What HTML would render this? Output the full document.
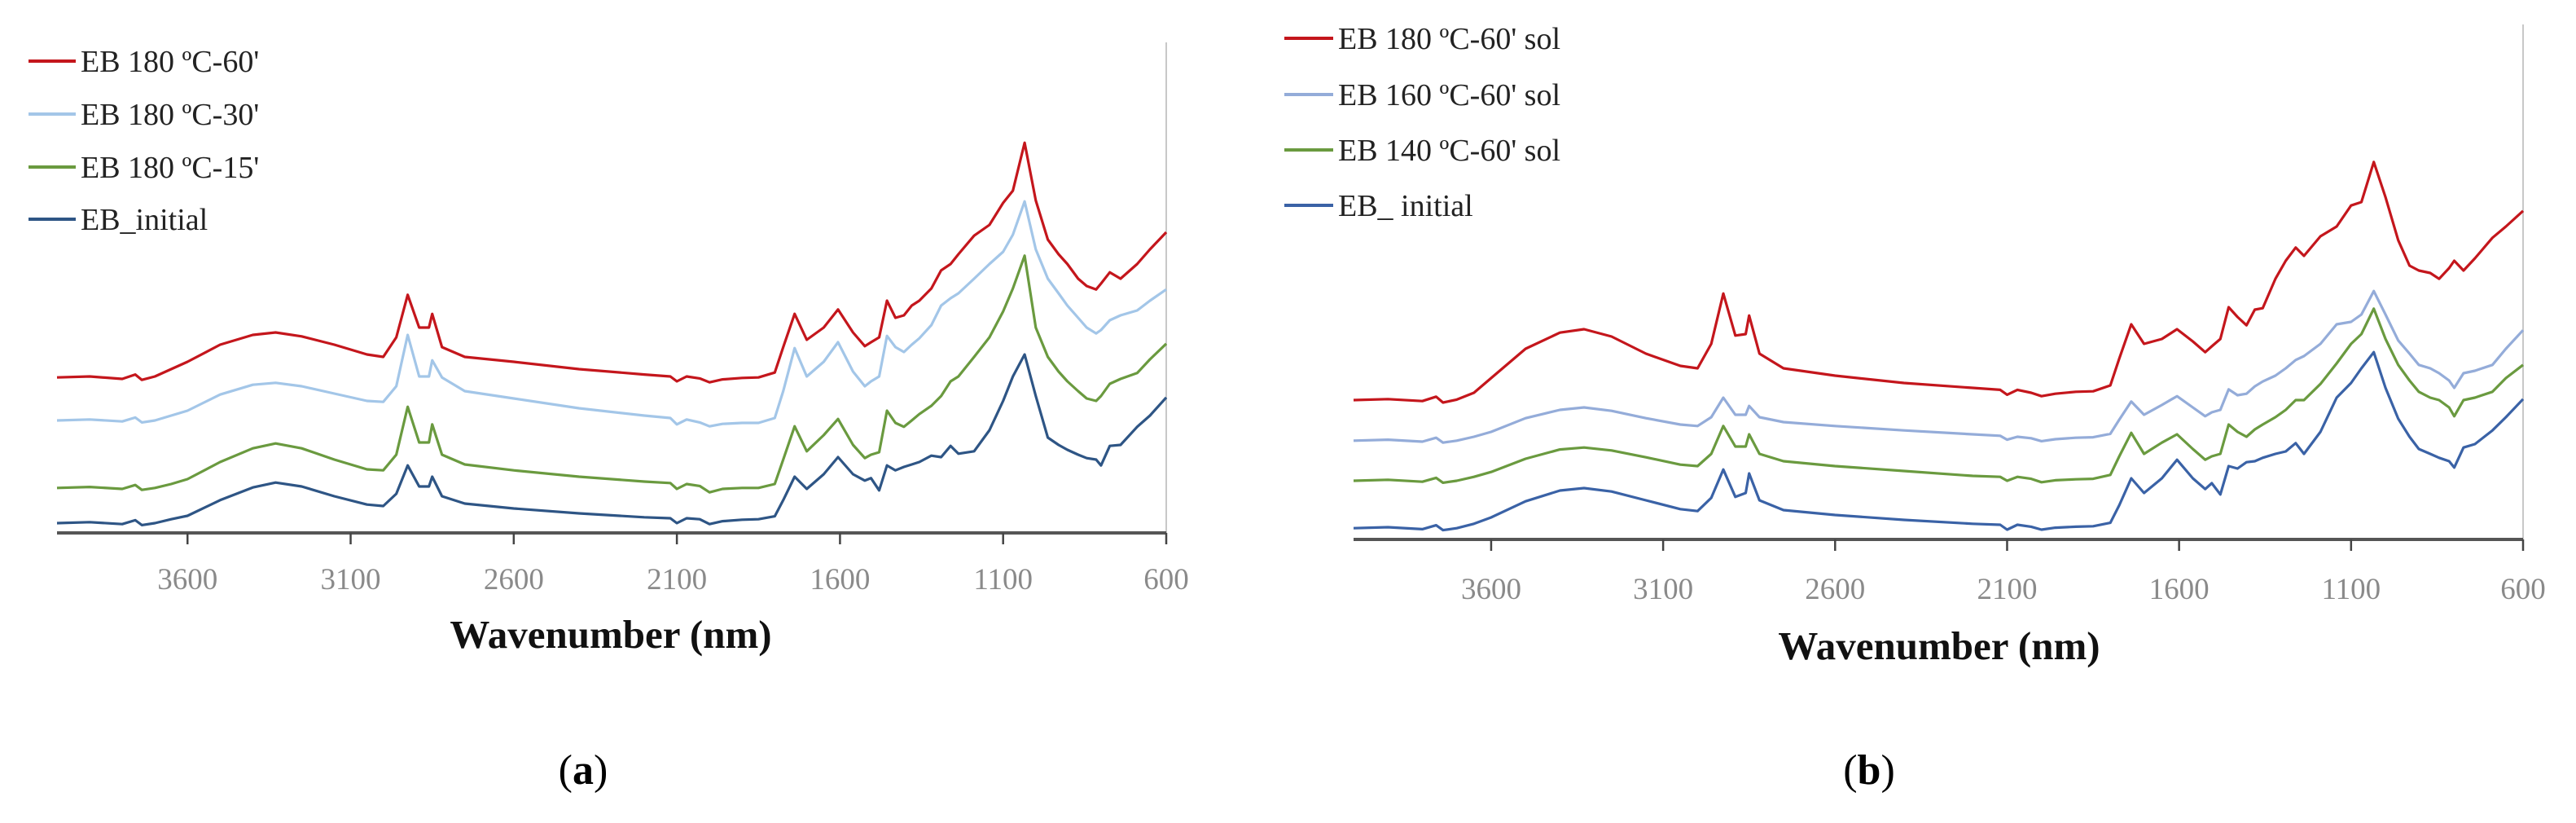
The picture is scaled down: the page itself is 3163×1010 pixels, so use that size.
<!DOCTYPE html>
<html><head><meta charset="utf-8"><style>
html,body{margin:0;padding:0;background:#fff;}
svg{display:block;}
.leg{font-family:"Liberation Serif",serif;font-size:38px;fill:#222;}
.tick{font-family:"Liberation Serif",serif;font-size:37px;fill:#8a8a8a;}
.ttl{font-family:"Liberation Serif",serif;font-size:49px;font-weight:bold;fill:#111;}
.cap{font-family:"Liberation Serif",serif;font-size:52px;fill:#000;}
</style></head><body>
<svg id="fig" width="3163" height="1010" viewBox="0 0 3163 1010" xmlns="http://www.w3.org/2000/svg">
<text class="cap" x="716" y="962" text-anchor="middle">(<tspan font-weight="bold">a</tspan>)</text>
<text class="cap" x="2295" y="962" text-anchor="middle">(<tspan font-weight="bold">b</tspan>)</text>
</svg>
<script>
const wavenumbers=[4000,3900,3800,3760,3740,3700,3650,3600,3500,3400,3330,3250,3150,3050,3000,2960,2925,2890,2860,2850,2820,2750,2600,2400,2200,2120,2100,2070,2030,2000,1960,1900,1850,1800,1774,1739,1702,1650,1606,1560,1524,1505,1480,1456,1430,1404,1380,1357,1320,1290,1261,1237,1189,1142,1100,1070,1034,1000,963,930,903,870,844,815,800,773,740,689,650,600];
const tickLabels=[3600,3100,2600,2100,1600,1100,600];
// chart (a)
const aRed=[31.8,32,31.5,32.4,31.3,32,33.5,35,38.5,40.5,41,40.2,38.5,36.5,36,40,48.7,42,42,44.8,38,36,35,33.5,32.4,32,31,32,31.6,30.8,31.4,31.7,31.8,32.8,38,44.8,39.5,42,45.7,41,38.2,39,40,47.5,44,44.5,46.5,47.5,50,53.7,55,57,60.8,63,67.5,70,79.8,68,60,57,55,52,50.5,49.8,51,53.3,52,55,58,61.5];
const aLight=[23,23.2,22.8,23.6,22.6,23,24,25,28.3,30.3,30.7,30,28.5,27,26.8,30,40.5,32,32,35.3,31.8,29,27.5,25.5,24,23.5,22.2,23.2,22.6,21.8,22.3,22.5,22.5,23.5,29,37.8,32,35,39,33,30,31,32,40.3,38,37,38.5,39.8,42.5,46.5,48,49,52,55,57.5,61,67.8,58,52,49,46.5,44,42,40.8,41.5,43.5,44.5,45.5,47.5,49.8];
const aGreen=[9.2,9.4,9,9.8,8.8,9.2,10,11,14.5,17.3,18.3,17.3,15,13,12.8,16,25.8,18.5,18.5,22.2,16,14,12.8,11.5,10.5,10.2,9,10,9.6,8.3,9,9.2,9.2,10,15,21.8,16.7,20,23.3,18,15.3,16,16.5,25,22.5,21.7,23,24.3,26,28,31,32,36,40,45.3,50,56.7,42,36,33,31,29,27.5,27,28,30.5,31.5,32.7,35.5,38.7];
const aBlue=[2,2.2,1.8,2.6,1.6,2,2.8,3.5,6.7,9.3,10.3,9.5,7.5,5.8,5.5,8,13.8,9.5,9.5,11.5,7.5,6,5,4,3.2,3,2,3,2.8,1.8,2.4,2.7,2.8,3.4,6.7,11.5,9,12,15.5,12,10.7,11.2,8.7,13.8,12.8,13.5,14,14.5,15.8,15.5,17.8,16.2,16.7,21,27,32,36.5,28,19.5,18,17,16,15.3,15,13.8,17.8,18,21.7,24,27.7];
// chart (b)
const bRed=[28.5,28.7,28.3,29.2,28,28.6,30,33,39,42.3,43,41.5,38,35.5,35,40,50.3,41.7,42,45.8,38,35,33.5,32,31,30.6,29.6,30.6,30,29.3,29.8,30.2,30.3,31.5,37,44,40,41,43,40.5,38.3,39.5,41,47.5,45.5,43.8,47,47.3,53.3,57,59.7,58,62,64,68.3,69,77.2,70,61.2,56,55,54.5,53.3,55.5,57,55,57.5,61.7,64,67.2];
const bLight=[20.2,20.4,20,20.8,19.8,20.2,21,22,24.8,26.5,27,26.3,24.8,23.5,23.2,25,29,25.5,25.5,27.3,25,24,23.2,22.3,21.5,21.2,20.4,21,20.7,20.1,20.5,20.8,20.9,21.6,24.5,28.2,25.5,27.5,29.3,27,25.2,26,26.5,30.7,29.5,29.8,31.3,32.3,33.5,35,36.7,37.5,40,44,44.5,46,50.8,46,40.7,38,35.7,35,34,32.5,31,34,34.5,35.7,39,42.8];
const bGreen=[12,12.2,11.8,12.6,11.6,12,12.8,13.8,16.5,18.4,18.8,18.2,16.8,15.3,15,17.5,23.2,19,19,21.5,17.5,16,15,14,13,12.8,12,12.8,12.4,11.7,12.1,12.3,12.4,13.2,17,21.8,17.5,19.8,21.5,18.5,16.3,17,17.5,23.5,22,21,22.5,23.5,25,26.5,28.5,28.5,31.8,36,40,42,47.2,41,35.7,32.5,30.2,29,28.5,27,25.2,28.5,29,30.2,33,35.7];
const bBlue=[2.3,2.5,2.1,2.9,1.9,2.3,3.2,4.5,7.8,10,10.5,9.8,8,6.2,5.8,8.5,14.3,8.7,9.5,13.5,8,6,5,4,3.2,3,2,3,2.6,2,2.4,2.6,2.7,3.4,7,12.5,9.5,12.5,16.3,12.5,10.3,11.5,9.2,15,14.5,15.8,16,16.7,17.5,18,19.7,17.5,22,29,32,35,38.3,31,24.7,21,18.5,17.5,16.7,16,14.7,18.8,19.5,22.3,25,28.7];
const aLabels=["EB 180 ºC-60'","EB 180 ºC-30'","EB 180 ºC-15'","EB_initial"];
const bLabels=["EB 180 ºC-60' sol","EB 160 ºC-60' sol","EB 140 ºC-60' sol","EB_ initial"];

const NS="http://www.w3.org/2000/svg";
const svg=document.getElementById('fig');
function mk(tag,attrs,parent){const e=document.createElementNS(NS,tag);for(const k in attrs)e.setAttribute(k,attrs[k]);(parent||svg).appendChild(e);return e;}

function chart(cfg){
  const g=mk('g',{});
  
  
  const xS=w=>cfg.x0+(4000-w)*(cfg.x1-cfg.x0)/3400;
  const yS=v=>cfg.axisY-v*6;
  const ra=mk('line',{x1:cfg.x1,y1:cfg.top,x2:cfg.x1,y2:cfg.axisY,stroke:'#c8c8c8','stroke-width':2},g);
  
  
  cfg.series.forEach((s,i)=>{
    let d='';
    s.vals.forEach((v,j)=>{d+=(j?'L':'M')+xS(wavenumbers[j]).toFixed(1)+','+yS(v).toFixed(1);});
    const p=mk('path',{d:d,fill:'none',stroke:s.color,'stroke-width':3.2,'stroke-linejoin':'round'},g);
    
    
  });
  const ax=mk('line',{x1:cfg.x0,y1:cfg.axisY,x2:cfg.x1,y2:cfg.axisY,stroke:'#555','stroke-width':4},g);
  
  
  tickLabels.forEach(t=>{
    const x=xS(t);
    const tk=mk('line',{x1:x,y1:cfg.axisY,x2:x,y2:cfg.axisY+14,stroke:'#444','stroke-width':2.5},g);
    
    
    const tl=mk('text',{x:x,y:cfg.labelY,'text-anchor':'middle',class:'tick'},g);
    tl.textContent=t;
    
    
  });
  const tt=mk('text',{x:cfg.titleX,y:cfg.titleY,'text-anchor':'middle',class:'ttl'},g);
  tt.textContent='Wavenumber (nm)';
  
  
  cfg.series.forEach((s,i)=>{
    const y=cfg.legY[i];
    const lg=mk('g',{},g);
    
    
    mk('line',{x1:cfg.legX0,y1:y,x2:cfg.legX1,y2:y,stroke:s.color,'stroke-width':4},lg);
    const t=mk('text',{x:cfg.legX1+6,y:y+13,class:'leg'},lg);
    t.textContent=cfg.labels[i];
  });
}
chart({name:'chart-a',x0:70,x1:1432,axisY:654,top:52,labelY:723,titleX:750,titleY:795,legX0:35,legX1:93,legY:[75,140,205,269],labels:aLabels,
  series:[{key:'red',vals:aRed,color:'#c4161c'},{key:'lightblue',vals:aLight,color:'#a3c6e8'},{key:'green',vals:aGreen,color:'#6a9a3f'},{key:'blue',vals:aBlue,color:'#2e5585'}]});
chart({name:'chart-b',x0:1662,x1:3098,axisY:662,top:30,labelY:735,titleX:2381,titleY:809,legX0:1577,legX1:1637,legY:[47,116,184,252],labels:bLabels,
  series:[{key:'red',vals:bRed,color:'#c4161c'},{key:'lightblue',vals:bLight,color:'#94acd9'},{key:'green',vals:bGreen,color:'#6a9a3f'},{key:'blue',vals:bBlue,color:'#3a62a6'}]});
</script>
</body></html>
